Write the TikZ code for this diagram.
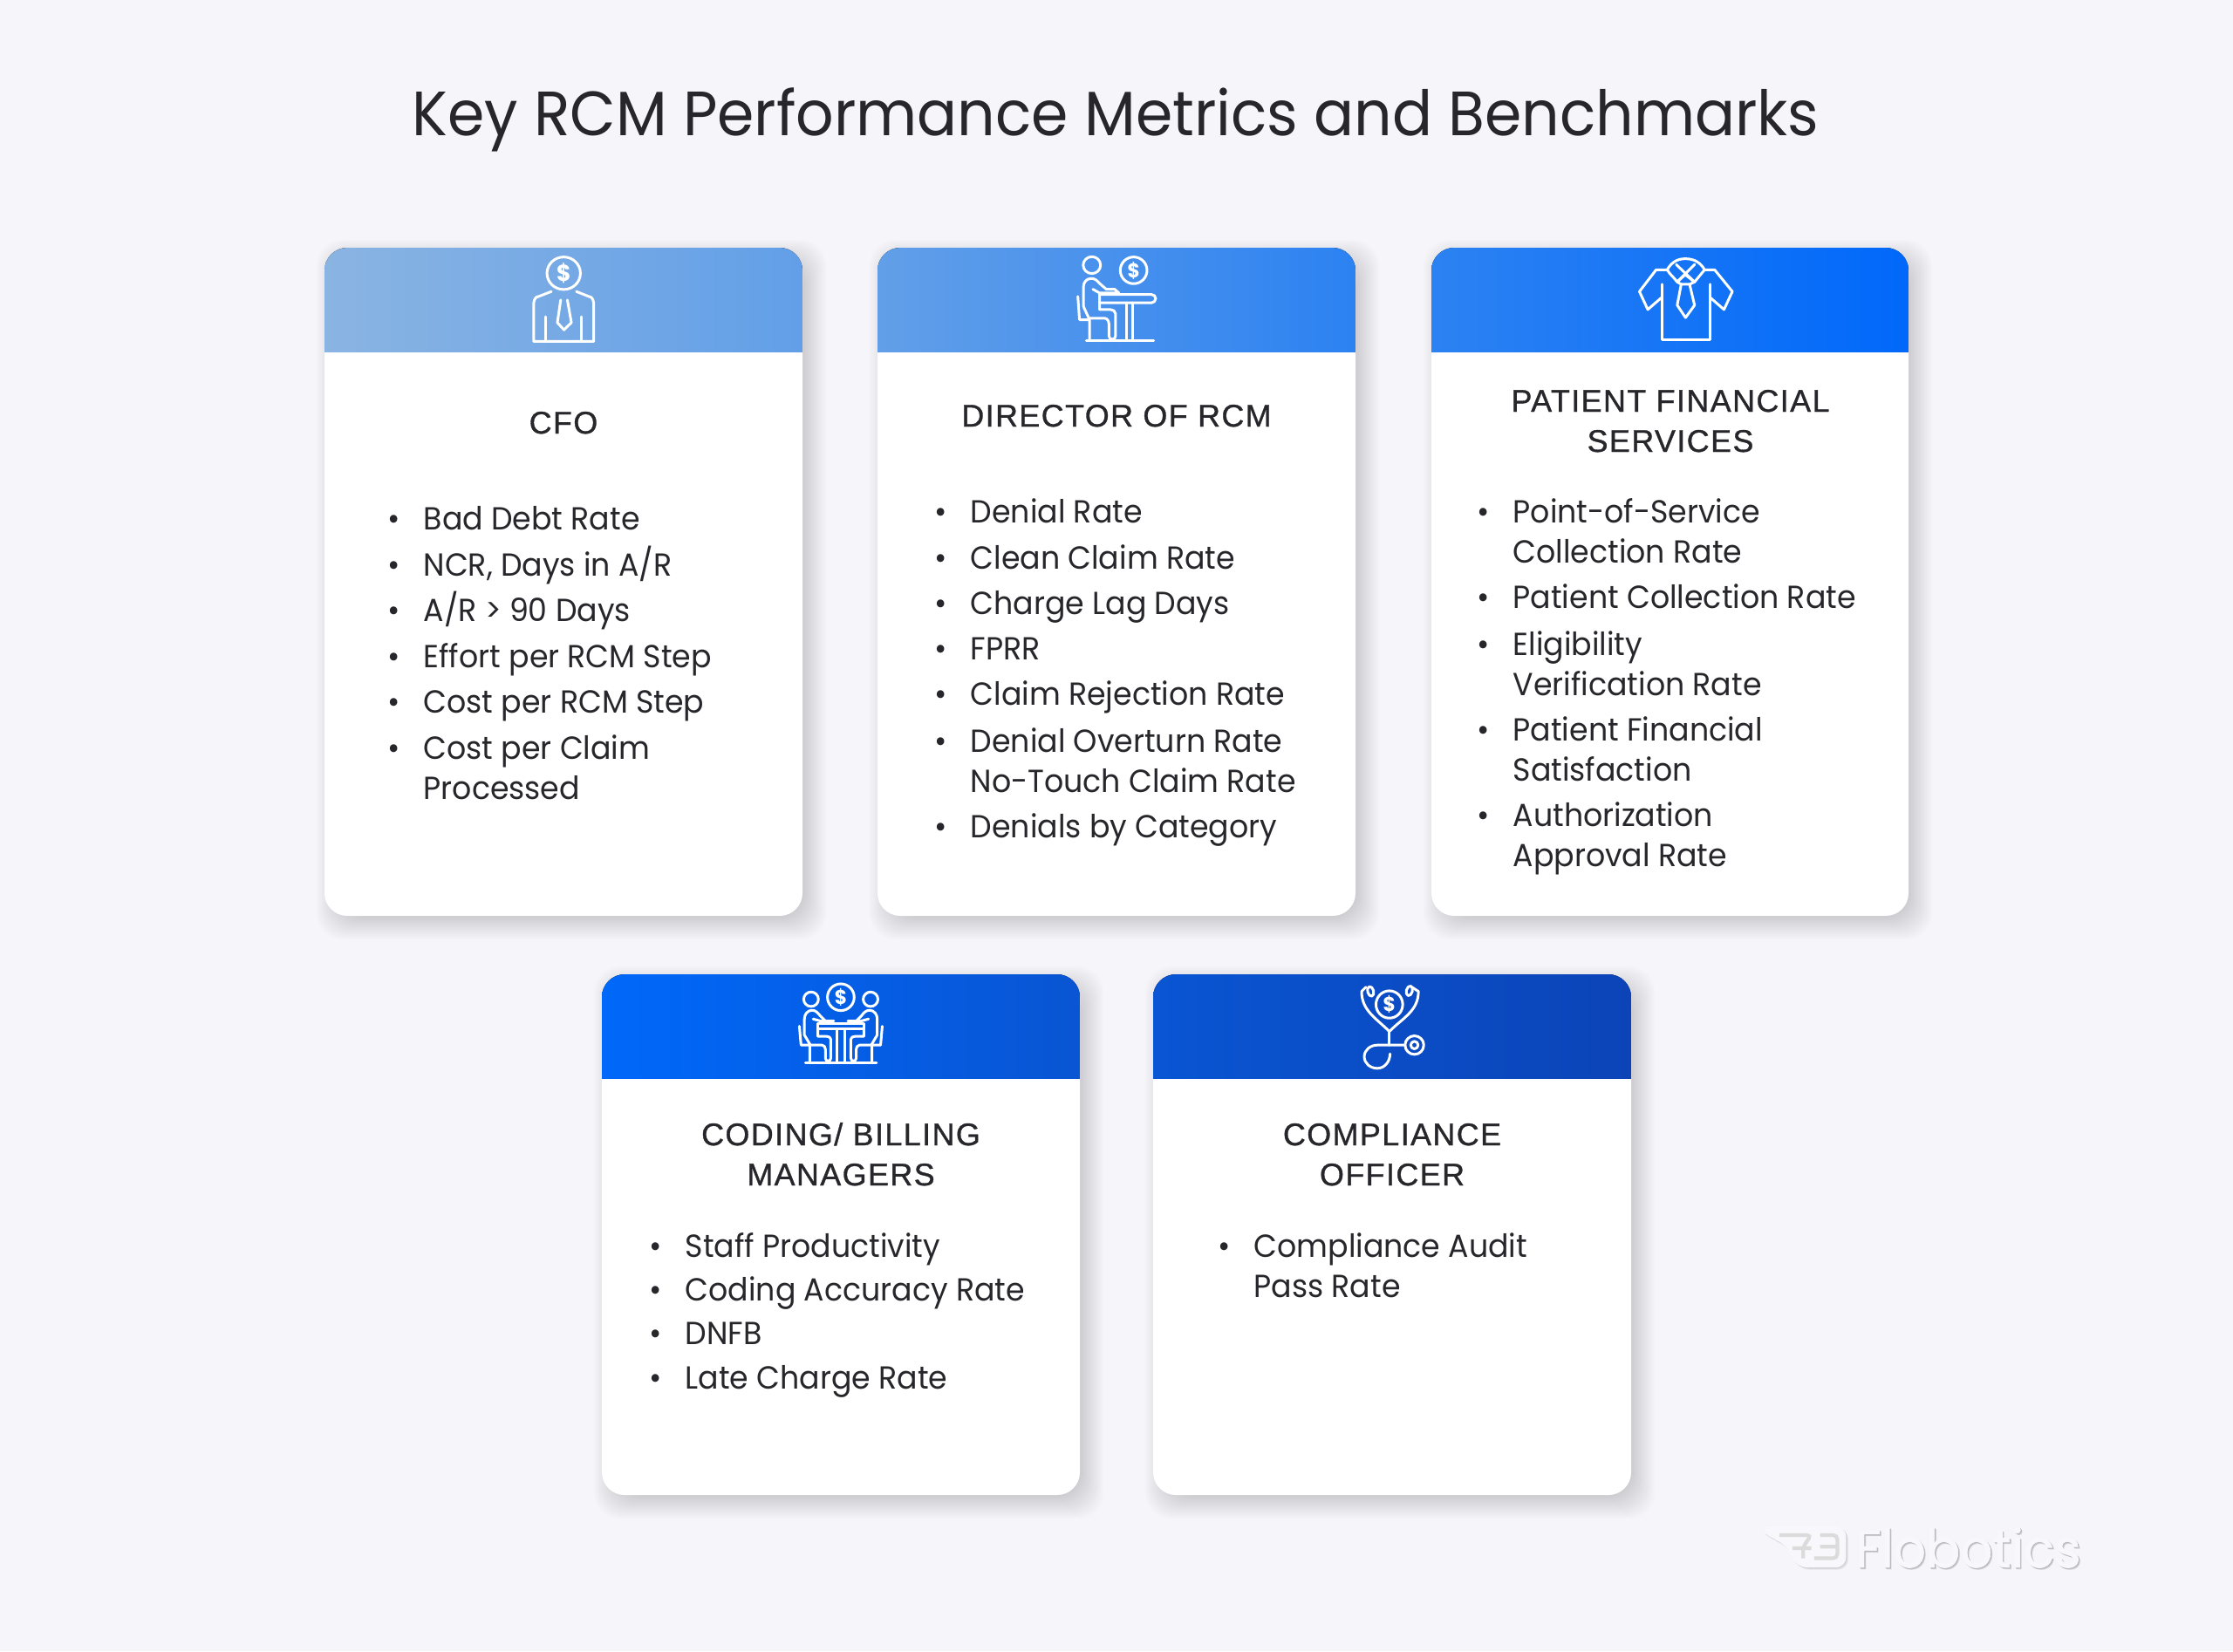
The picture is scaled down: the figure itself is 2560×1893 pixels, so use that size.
\documentclass[tikz,border=0pt]{standalone}
\usepackage{fontspec}
\setmainfont[FakeStretch=0.95]{Poppins}
\newfontfamily\headfont[LetterSpace=4, FakeBold=0.9]{Liberation Sans}
\newfontfamily\logofont[FakeStretch=0.95, FakeBold=1.2]{Poppins}
\usetikzlibrary{calc, positioning}
\definecolor{mainBlack}{HTML}{26262B}
\definecolor{pageBack}{HTML}{F5F5FA}
\definecolor{logoWhite}{HTML}{F8F8FC}
\definecolor{HeadA}{HTML}{8AB4E2}
\definecolor{HeadB}{HTML}{629FE8}
\definecolor{HeadC}{HTML}{2C82F2}
\definecolor{HeadD}{HTML}{0068FA}
\definecolor{HeadE}{HTML}{0955D3}
\definecolor{HeadF}{HTML}{0C44B8}

\tikzset{
    chartTitle/.style={anchor=base, inner sep=0pt, text=mainBlack, font=\fontsize{20.4}{24}\selectfont},
    cardHead/.style={anchor=base, inner sep=0pt, text=mainBlack, font=\headfont\fontsize{10.2}{13}\selectfont},
    itemText/.style={anchor=base west, inner sep=0pt, text=mainBlack, font=\fontsize{10.4}{13}\selectfont},
    itemDot/.style={anchor=base, inner sep=0pt, text=mainBlack, font=\fontsize{10.4}{13}\selectfont},
    iconLine/.style={draw=white, line width=0.85pt, line join=round, line cap=round},
    dollarSign/.style={inner sep=0pt, text=white, font=\bfseries\fontsize{#1}{8}\selectfont},
    zoomCrop/.style 2 args={shift={(#1,#2)}, x=0.003827cm, y=-0.003333cm},
}

% card: left, right, top, bottom, gradient left, gradient right
\newcommand{\drawCard}[6]{
    \foreach \ss in {-8,-6,...,18}
        \fill[black, opacity=0.012, rounded corners=0.3cm] (#1+9-\ss,#3+9-\ss) rectangle (#2+9+\ss,#4+9+\ss);
    \fill[white, rounded corners=0.26cm] (#1,#3) rectangle (#2,#4);
    \begin{scope}
        \clip[rounded corners=0.26cm] (#1,#3) rectangle (#2,#4);
        \fill[left color=#5, right color=#6] (#1,#3) rectangle (#2,#3+119);
    \end{scope}
}
\newcommand{\bulletLines}[3]{
    \foreach \yy/\txt in {#3} {
        \node[itemDot] (#1dot\yy) at (#2-33,\yy) {•};
        \node[itemText] (#1item\yy) at (#2,\yy) {\txt};
    }
}
\newcommand{\wrapLines}[3]{
    \foreach \yy/\txt in {#3}
        \node[itemText] (#1item\yy) at (#2,\yy) {\txt};
}

\begin{document}
\begin{tikzpicture}[x=0.01cm, y=-0.01cm]
    \fill[pageBack] (0,0) rectangle (2560,1893);
    \useasboundingbox (0,0) rectangle (2560,1893);

    \node[chartTitle] (chartName) at (1279,155) {Key RCM Performance Metrics and Benchmarks};

    % Cards
    \drawCard{372}{920}{284}{1050}{HeadA}{HeadB}
    \drawCard{1006}{1554}{284}{1050}{HeadB}{HeadC}
    \drawCard{1641}{2188}{284}{1050}{HeadC}{HeadD}
    \drawCard{690}{1238}{1117}{1714}{HeadD}{HeadE}
    \drawCard{1322}{1870}{1117}{1714}{HeadE}{HeadF}

    % CFO
    \node[cardHead] (cfoHead) at (646,497) {CFO};
    \bulletLines{cfo}{485}{607/Bad Debt Rate, 660/{NCR, Days in A/R}, 712/{A/R > 90 Days}, 765/Effort per RCM Step, 817/Cost per RCM Step, 870/Cost per Claim}
    \wrapLines{cfo}{485}{916/Processed}
    \begin{scope}[zoomCrop={360}{270}]
        \draw[iconLine] (747,130) ellipse [x radius=50, y radius=56];
        \node[dollarSign=7.5] (cfoCoin) at (747,130) {\$};
        \draw[iconLine] (710,193) -- (672,210) to[out=180, in=90] (657,240) -- (657,365) -- (837,365) -- (837,240) to[out=90, in=0] (822,210) -- (785,193);
        \draw[iconLine] (692,280) -- (692,365) (800,280) -- (800,365);
        \draw[iconLine] (738,222) -- (728,300) -- (748,325) -- (770,300) -- (758,222);
    \end{scope}

    % Director of RCM
    \node[cardHead] (dirHead) at (1280,489) {DIRECTOR OF RCM};
    \bulletLines{dir}{1112}{599/Denial Rate, 652/Clean Claim Rate, 704/Charge Lag Days, 756/FPRR, 808/Claim Rejection Rate, 862/Denial Overturn Rate, 960/Denials by Category}
    \wrapLines{dir}{1112}{908/No-Touch Claim Rate}
    \begin{scope}[zoomCrop={1000}{270}]
        \draw[iconLine] (657,102) ellipse [x radius=26, y radius=29];
        \draw[iconLine] (782,120) ellipse [x radius=40, y radius=46];
        \node[dollarSign=6.5] (dirCoin) at (782,120) {\$};
        \draw[iconLine] (632,245) -- (632,175) to[out=90, in=180] (655,148) to[out=0, in=130] (680,165) -- (700,185) -- (725,185) -- (738,198) -- (680,198) -- (660,185);
        \draw[iconLine] (632,245) -- (648,285) -- (695,285) to[out=0, in=90] (708,305) -- (708,345) to[out=-90, in=180] (718,358) to[out=0, in=-90] (728,345) -- (728,270) to[out=90, in=0] (712,255) -- (680,255) -- (680,198);
        \draw[iconLine] (680,203) -- (835,203) to[out=0, in=90] (848,217) to[out=-90, in=0] (835,232) -- (680,232);
        \draw[iconLine] (760,232) -- (760,360) (780,232) -- (780,360) (640,362) -- (842,362);
        \draw[iconLine] (615,210) -- (620,290) -- (650,290) -- (650,360);
    \end{scope}

    % Patient Financial Services
    \node[cardHead] (pfsHeadA) at (1915,472) {PATIENT FINANCIAL};
    \node[cardHead] (pfsHeadB) at (1915,518) {SERVICES};
    \bulletLines{pfs}{1734}{599/Point-of-Service, 697/Patient Collection Rate, 751/Eligibility, 849/Patient Financial, 947/Authorization}
    \wrapLines{pfs}{1734}{645/Collection Rate, 797/Verification Rate, 895/Satisfaction, 993/Approval Rate}
    \begin{scope}[zoomCrop={1640}{270}]
        \draw[iconLine] (692,168) -- (692,360) -- (836,360) -- (836,168);
        \draw[iconLine] (708,118) -- (675,118) -- (625,193) -- (650,255) -- (690,215);
        \draw[iconLine] (820,118) -- (850,118) -- (903,193) -- (878,255) -- (838,215);
        \draw[iconLine] (708,118) to[out=-60, in=125] (738,160) -- (790,100) (820,118) -- (790,160) -- (735,100);
        \draw[iconLine] (708,118) to[out=60, in=180] (762,80) to[out=0, in=120] (820,118);
        \draw[iconLine] (738,160) -- (762,135) -- (790,160) -- (775,168) -- (750,168) -- cycle;
        \draw[iconLine] (750,168) -- (738,240) -- (763,283) -- (790,240) -- (775,168);
    \end{scope}

    % Coding / Billing Managers
    \node[cardHead] (codHeadA) at (964,1313) {CODING/ BILLING};
    \node[cardHead] (codHeadB) at (964,1359) {MANAGERS};
    \bulletLines{cod}{785}{1441/Staff Productivity, 1491/Coding Accuracy Rate, 1541/DNFB, 1592/Late Charge Rate}
    \begin{scope}[zoomCrop={680}{1100}]
        \draw[iconLine] (741,130) ellipse [x radius=40, y radius=46];
        \node[dollarSign=6.5] (codCoin) at (741,130) {\$};
        \draw[iconLine] (672,222) rectangle (810,240);
        \draw[iconLine] (730,240) -- (730,355) (752,240) -- (752,355) (635,356) -- (848,356);
        \foreach \sx in {1,-1} {
            \begin{scope}[shift={(741,0)}, xscale=\sx]
                \draw[iconLine] (-89,137) ellipse [x radius=22, y radius=25];
                \draw[iconLine] (-109,205) to[out=90, in=180] (-86,175) to[out=0, in=130] (-61,195) -- (-46,212) -- (-21,212) -- (-61,212) -- (-83,205);
                \draw[iconLine] (-109,205) -- (-109,260) -- (-91,295) -- (-56,295) to[out=0, in=90] (-46,310) -- (-46,340) to[out=-90, in=180] (-38,350) to[out=0, in=-90] (-30,340) -- (-30,275) to[out=90, in=0] (-42,265) -- (-69,265) -- (-69,240);
                \draw[iconLine] (-124,230) -- (-119,295) -- (-93,295) -- (-93,355);
            \end{scope}
        }
    \end{scope}

    % Compliance Officer
    \node[cardHead] (cmpHeadA) at (1596,1313) {COMPLIANCE};
    \node[cardHead] (cmpHeadB) at (1596,1359) {OFFICER};
    \bulletLines{cmp}{1437}{1441/Compliance Audit}
    \wrapLines{cmp}{1437}{1487/Pass Rate}
    \begin{scope}[zoomCrop={1310}{1100}]
        \draw[iconLine] (738,155) ellipse [x radius=40, y radius=47];
        \node[dollarSign=6.5] (cmpCoin) at (738,155) {\$};
        \draw[iconLine] (668,95) -- (655,110) to[out=-90, in=135] (738,248) to[out=45, in=-90] (825,110) -- (805,95);
        \draw[iconLine, rotate around={15:(682,110)}] (682,110) ellipse [x radius=9, y radius=17];
        \draw[iconLine, rotate around={-15:(798,108)}] (798,108) ellipse [x radius=9, y radius=17];
        \draw[iconLine] (738,248) -- (738,295);
        \draw[iconLine] (785,295) -- (702,295) to[out=180, in=90] (663,335) to[out=-90, in=180] (702,375) to[out=0, in=-90] (740,325);
        \draw[iconLine] (813,295) ellipse [x radius=28, y radius=32];
        \draw[iconLine] (813,295) ellipse [x radius=11, y radius=13];
    \end{scope}

    % Logo
    \begin{scope}[shift={(1980,1710)}, x=0.003333cm, y=-0.003333cm]
        \foreach \ss in {2,4,6,8}
            \fill[black, opacity=0.04, rounded corners=0.12cm] (110+\ss,120+\ss) -- (410+\ss,120+\ss) -- (410+\ss,262+\ss) -- (240+\ss,262+\ss) -- (195+\ss,172+\ss) -- (145+\ss,162+\ss) -- cycle;
        \fill[logoWhite, rounded corners=0.12cm] (110,120) -- (410,120) -- (410,262) -- (240,262) -- (195,172) -- (145,162) -- cycle;
        \draw[black!14, line width=1.2pt, rounded corners=0.05cm] (180,150) -- (290,150) -- (262,190) -- (262,230) (225,195) -- (290,195) (320,150) -- (380,150) -- (380,230) -- (300,230) (320,190) -- (380,190);
        \foreach \ss in {1,2,3}
            \node[anchor=west, inner sep=0pt, text=black, opacity=0.08, font=\logofont\fontsize{17.4}{22}\selectfont] (logoShade\ss) at (440+2*\ss,192+2*\ss) {Flobotics};
        \node[anchor=west, inner sep=0pt, text=logoWhite, font=\logofont\fontsize{17.4}{22}\selectfont] (logoName) at (440,192) {Flobotics};
    \end{scope}
\end{tikzpicture}
\end{document}
